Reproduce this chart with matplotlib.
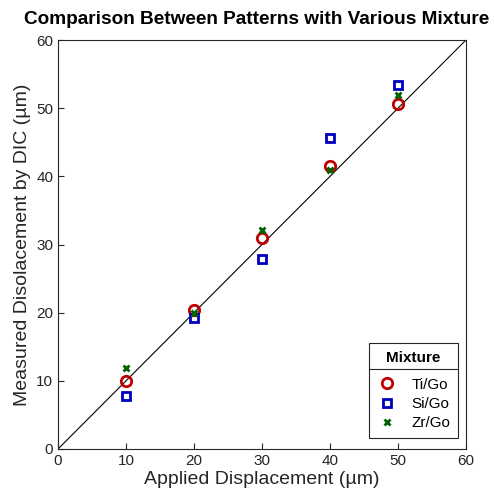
import numpy as np
import matplotlib
matplotlib.use('Agg')
import matplotlib.pyplot as plt
from matplotlib.lines import Line2D

plt.rcParams['font.family'] = ['Liberation Sans', 'DejaVu Sans']

applied = [10, 20, 30, 40, 50]
ti_go = [10.0, 20.4, 30.9, 41.5, 50.6]
si_go = [7.8, 19.2, 27.9, 45.6, 53.4]
zr_go = [11.9, 19.9, 32.1, 40.9, 51.9]
ticks = [0, 10, 20, 30, 40, 50, 60]

fig = plt.figure(figsize=(4.94, 5.01), dpi=100)
ax = fig.add_axes([58/494, 1-449/501, 408/494, 409/501])

ax.plot([0, 60], [0, 60], color='black', lw=0.8, zorder=1)
ax.plot(applied, ti_go, 'o', ms=7.5, mfc='none', mec='#c00000', mew=2, label='Ti/Go', zorder=3)
ax.plot(applied, si_go, 's', ms=5.5, mfc='none', mec='#0000c0', mew=2, label='Si/Go', zorder=3)
ax.plot(applied, zr_go, 'x', ms=4.5, color='#006400', mew=2, label='Zr/Go', zorder=3)

ax.set_xlim(0, 60)
ax.set_ylim(0, 60)
ax.set_xticks(ticks)
ax.set_yticks(ticks)
ax.tick_params(direction='in', length=4, labelsize=11, color='#262626', labelcolor='#262626', top=False, right=False)
for s in ax.spines.values():
    s.set_color('#262626')
    s.set_linewidth(0.8)

ax.set_xlabel('Applied Displacement (µm)', fontsize=14, color='#262626', labelpad=2)
ax.set_ylabel('Measured Disolacement by DIC (µm)', fontsize=14, color='#262626', labelpad=4)
fig.text(257/494, 1-19/501, 'Comparison Between Patterns with Various Mixture',
         fontsize=13.7, fontweight='bold', ha='center', va='center')

leg = ax.legend(title='Mixture', loc='lower right', bbox_to_anchor=(0.98, 0.027), borderaxespad=0,
                fontsize=11, title_fontproperties={'weight': 'bold', 'size': 11},
                fancybox=False, edgecolor='#262626', framealpha=1, handlelength=1.4,
                handletextpad=0.9, borderpad=0.5, labelspacing=0.35)
leg.get_frame().set_linewidth(0.8)
leg._legend_box.sep = 9

fig.canvas.draw()
bb = leg.get_frame().get_window_extent().transformed(fig.transFigure.inverted())
tb = leg.get_title().get_window_extent().transformed(fig.transFigure.inverted())
yl = tb.y0 - 0.007
fig.add_artist(Line2D([bb.x0, bb.x1], [yl, yl], color='#262626', lw=0.8, transform=fig.transFigure))

fig.savefig('out.png', dpi=100)
